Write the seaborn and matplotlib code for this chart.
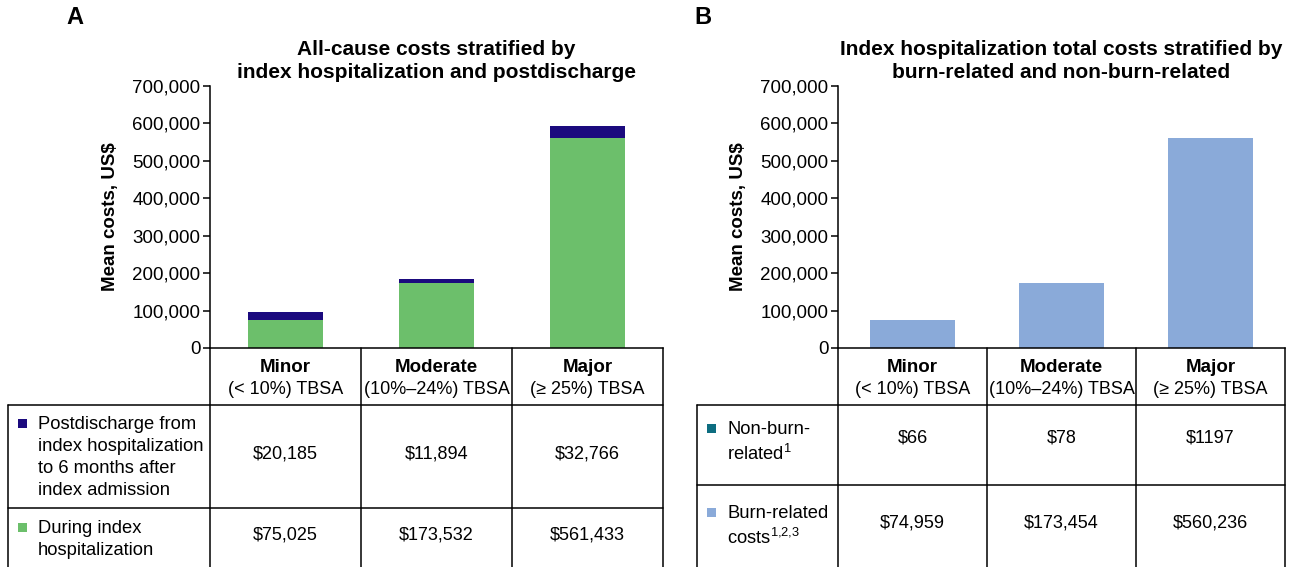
import matplotlib
matplotlib.use("Agg")
import matplotlib.pyplot as plt
import matplotlib.transforms as mtransforms
from matplotlib.lines import Line2D
from matplotlib.patches import Rectangle
from matplotlib.ticker import FuncFormatter
import seaborn as sns

# data
categories = ["Minor", "Moderate", "Major"]
ranges = ["(< 10%) TBSA", "(10%\u201324%) TBSA", "(\u2265 25%) TBSA"]
post_discharge = [20185, 11894, 32766]
during_index = [75025, 173532, 561433]
non_burn = [66, 78, 1197]
burn_related = [74959, 173454, 560236]

NAVY = "#1b0a7e"
GREEN = "#6cbf6b"
TEAL = "#0d6d80"
LIGHTBLUE = "#8aaad9"

W, H = 1291, 567

sns.set_theme(style="white")
plt.rcParams["font.family"] = ["Liberation Sans", "DejaVu Sans"]
plt.rcParams["mathtext.fontset"] = "custom"
plt.rcParams["mathtext.rm"] = "Liberation Sans"
plt.rcParams["mathtext.it"] = "Liberation Sans:italic"
plt.rcParams["mathtext.bf"] = "Liberation Sans:bold"
for k in ["text.color", "axes.labelcolor", "xtick.color", "ytick.color",
          "axes.edgecolor"]:
    plt.rcParams[k] = "black"
plt.rcParams["axes.linewidth"] = 1.1


def fx(x):
    return x / W


def fy(y):
    return 1 - y / H


def hline(fig, x0, x1, y):
    fig.add_artist(Line2D([fx(x0), fx(x1)], [fy(y), fy(y)],
                          transform=fig.transFigure, color="black", lw=1.1))


def vline(fig, x, y0, y1):
    fig.add_artist(Line2D([fx(x), fx(x)], [fy(y0), fy(y1)],
                          transform=fig.transFigure, color="black", lw=1.1))


def panel(fig, left, right, top_vals, bottom_vals, top_color, bottom_color,
          width, letter, letter_x, title, tab_left, row_split, rows, val_y,
          label_y):
    """ Stacked bar panel with a value table underneath """
    ax = fig.add_axes([fx(left), fy(348), fx(right) - fx(left),
                       fy(86) - fy(348)])
    totals = [a + b for a, b in zip(top_vals, bottom_vals)]
    sns.barplot(x=categories, y=totals, color=top_color, width=width,
                saturation=1, linewidth=0, ax=ax)
    sns.barplot(x=categories, y=bottom_vals, color=bottom_color, width=width,
                saturation=1, linewidth=0, ax=ax)
    ax.set_xlim(-0.5, 2.5)
    ax.set_ylim(0, 700000)
    ax.set_yticks(range(0, 700001, 100000))
    ax.yaxis.set_major_formatter(FuncFormatter(lambda v, p: f"{int(v):,}"))
    ax.tick_params(axis="y", which="major", left=True, length=5, width=1.1,
                   color="black", labelsize=13.5, pad=2)
    ax.tick_params(axis="x", bottom=False, labelbottom=False)
    ax.set(xlabel="", ylabel="")
    sns.despine(ax=ax)

    fig.text(fx(left - 100), fy(217), "Mean costs, US$", rotation=90,
             ha="center", va="center", fontsize=13.5, weight="bold")
    fig.text(fx(letter_x), fy(18), letter, ha="center", va="center",
             fontsize=17, weight="bold")
    fig.text((fx(left) + fx(right)) / 2, fy(61), title, ha="center",
             va="center", fontsize=15, weight="bold", linespacing=1.32)

    # table header
    blend = mtransforms.blended_transform_factory(ax.transData,
                                                  fig.transFigure)
    for i, (cat, rng) in enumerate(zip(categories, ranges)):
        ax.text(i, fy(367), cat, transform=blend, ha="center", va="center",
                fontsize=13.5, weight="bold", clip_on=False)
        ax.text(i, fy(389), rng, transform=blend, ha="center", va="center",
                fontsize=13, clip_on=False)
    for b in [-0.5, 0.5, 1.5, 2.5]:
        ax.add_line(Line2D([b, b], [fy(348), fy(567)], transform=blend,
                           color="black", lw=1.1, clip_on=False))

    # table rows
    hline(fig, tab_left, right, 405)
    hline(fig, tab_left, right, row_split)
    vline(fig, tab_left, 405, 567)
    for r, (name, color, vals, fmt) in enumerate(rows):
        ly = label_y[r]
        fig.add_artist(Rectangle((fx(tab_left + 10), fy(ly + 4.5)),
                                 fx(9), 9 / H, color=color, lw=0,
                                 transform=fig.transFigure))
        fig.text(fx(tab_left + 30), fy(ly - 7), name, ha="left", va="top",
                 fontsize=13.2, linespacing=1.38)
        for i, v in enumerate(vals):
            ax.text(i, fy(val_y[r]), fmt(v), transform=blend, ha="center",
                    va="center", fontsize=13, clip_on=False)
    return ax


fig = plt.figure(figsize=(W / 100, H / 100), dpi=100)

panel(fig, 210, 663, post_discharge, during_index, NAVY, GREEN, 0.5,
      "A", 75,
      "All-cause costs stratified by\nindex hospitalization and postdischarge",
      8, 508,
      [("Postdischarge from\nindex hospitalization\nto 6 months after\n"
        "index admission", NAVY, post_discharge, lambda v: f"${v:,}"),
       ("During index\nhospitalization", GREEN, during_index,
        lambda v: f"${v:,}")],
      [454, 535], [423, 527])

panel(fig, 838, 1285, non_burn, burn_related, TEAL, LIGHTBLUE, 0.57,
      "B", 703,
      "Index hospitalization total costs stratified by\n"
      "burn-related and non-burn-related",
      697, 485,
      [("Non-burn-\nrelated$^{1}$", TEAL, non_burn, lambda v: f"${v}"),
       ("Burn-related\ncosts$^{1{,}2{,}3}$", LIGHTBLUE, burn_related,
        lambda v: f"${v:,}")],
      [438, 523], [428, 512])

fig.savefig("out.png", dpi=100)
